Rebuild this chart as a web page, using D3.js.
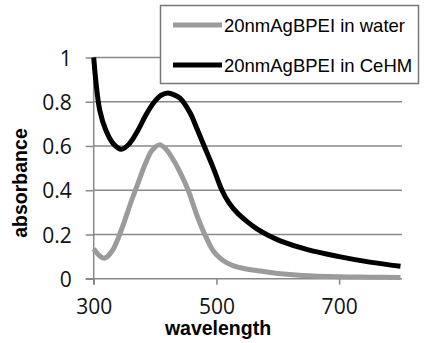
<!DOCTYPE html>
<html>
<head>
<meta charset="utf-8">
<script src="https://cdn.jsdelivr.net/npm/d3@7"></script>
<style>
    body { margin: 0; background: #fff; }
    svg { display: block; }
</style>
</head>
<body>
<svg id="chart" width="434" height="343"></svg>
<script>
// wavelength (nm) / absorbance
var waterWavelength = [300, 310, 318, 330, 345, 360, 372, 385, 395, 407, 418, 427, 441, 454, 468, 481, 495, 505, 515, 528, 545, 570, 600, 640, 700, 750, 800];
var waterAbsorbance = [0.135, 0.103, 0.093, 0.125, 0.22, 0.34, 0.43, 0.525, 0.58, 0.605, 0.585, 0.55, 0.48, 0.40, 0.288, 0.20, 0.125, 0.095, 0.075, 0.058, 0.046, 0.035, 0.024, 0.015, 0.009, 0.007, 0.005];

var cehmWavelength = [300, 304, 310, 320, 332, 345, 358, 372, 385, 399, 410, 421, 432, 441, 457, 468, 480, 495, 509, 520, 533, 549, 566, 585, 605, 650, 700, 750, 800];
var cehmAbsorbance = [1.0, 0.88, 0.76, 0.67, 0.61, 0.585, 0.61, 0.67, 0.74, 0.80, 0.83, 0.84, 0.83, 0.815, 0.75, 0.68, 0.60, 0.50, 0.40, 0.345, 0.30, 0.26, 0.225, 0.195, 0.17, 0.13, 0.10, 0.075, 0.056];

var seriesNames = ["20nmAgBPEI in water", "20nmAgBPEI in CeHM"];
var xTicks = [300, 500, 700];
var yTicks = [0, 0.2, 0.4, 0.6, 0.8, 1];

var series = [
    {name: seriesNames[0], color: "#9b9b9b", values: d3.zip(waterWavelength, waterAbsorbance)},
    {name: seriesNames[1], color: "#000", values: d3.zip(cehmWavelength, cehmAbsorbance)}
];

var svg = d3.select("#chart"),
    plotLeft = 93.7,
    plotRight = 400.5,
    plotTop = 57.5,
    plotBottom = 278.7;

var x = d3.scaleLinear().domain([300, 800]).range([plotLeft, plotRight]),
    y = d3.scaleLinear().domain([0, 1]).range([plotBottom, plotTop]);

var axisColor = "#888";

// gridlines
svg.append("g")
    .selectAll("line")
    .data(yTicks.filter(function (d) { return d > 0; }))
    .enter()
    .append("line")
    .attr("x1", plotLeft)
    .attr("x2", plotRight + 1.5)
    .attr("y1", function (d) { return y(d); })
    .attr("y2", function (d) { return y(d); })
    .attr("stroke", axisColor)
    .attr("stroke-width", 1.5);

// x axis
var xAxis = svg.append("g")
    .attr("transform", "translate(0," + plotBottom + ")")
    .call(d3.axisBottom(x).tickValues(xTicks).tickSize(6).tickPadding(11).tickSizeOuter(0));
xAxis.select(".domain").remove();
xAxis.append("line")
    .attr("x1", plotLeft - 8)
    .attr("x2", plotRight + 1.5)
    .attr("stroke", axisColor)
    .attr("stroke-width", 1.5);

// y axis
var yAxis = svg.append("g")
    .attr("transform", "translate(" + plotLeft + ",0)")
    .call(d3.axisLeft(y).tickValues(yTicks).tickFormat(d3.format("")).tickSize(8).tickPadding(14).tickSizeOuter(0));
yAxis.select(".domain")
    .attr("stroke", axisColor)
    .attr("stroke-width", 1.5)
    .attr("d", "M0," + (plotBottom + 6) + "V" + plotTop);

svg.selectAll(".tick line")
    .attr("stroke", axisColor)
    .attr("stroke-width", 1.5);
svg.selectAll(".tick text")
    .attr("font-family", "'Open Sans', sans-serif")
    .attr("font-size", 21)
    .attr("fill", "#111");
xAxis.selectAll(".tick text").attr("dy", "0.85em");
yAxis.selectAll(".tick text").attr("dy", "0.36em");

// axis titles
svg.append("text")
    .attr("x", 218)
    .attr("y", 335)
    .attr("text-anchor", "middle")
    .attr("font-family", "'Liberation Sans', Arial, sans-serif")
    .attr("font-weight", "bold")
    .attr("font-size", 19.5)
    .text("wavelength");

svg.append("text")
    .attr("transform", "translate(27,183) rotate(-90)")
    .attr("text-anchor", "middle")
    .attr("font-family", "'Liberation Sans', Arial, sans-serif")
    .attr("font-weight", "bold")
    .attr("font-size", 19.5)
    .text("absorbance");

// curves
var line = d3.line()
    .x(function (d) { return x(d[0]); })
    .y(function (d) { return y(d[1]); })
    .curve(d3.curveCatmullRom.alpha(0.5));

svg.append("g")
    .selectAll("path")
    .data(series)
    .enter()
    .append("path")
    .attr("d", function (d) { return line(d.values); })
    .attr("fill", "none")
    .attr("stroke", function (d) { return d.color; })
    .attr("stroke-width", 5)
    .attr("stroke-linejoin", "round");

// legend
var legend = svg.append("g");
legend.append("rect")
    .attr("x", 160.5)
    .attr("y", 5.5)
    .attr("width", 258)
    .attr("height", 78)
    .attr("fill", "#fff")
    .attr("stroke", "#777")
    .attr("stroke-width", 1.5);

var item = legend.selectAll(".item")
    .data(series)
    .enter()
    .append("g")
    .attr("class", "item")
    .attr("transform", function (d, i) { return "translate(0," + (25 + i * 40) + ")"; });

item.append("line")
    .attr("x1", 173)
    .attr("x2", 222)
    .attr("stroke", function (d) { return d.color; })
    .attr("stroke-width", 5);

item.append("text")
    .attr("x", 224)
    .attr("y", 6.6)
    .attr("font-family", "'Liberation Sans', Arial, sans-serif")
    .attr("font-size", 18.5)
    .text(function (d) { return d.name; });
</script>
</body>
</html>
